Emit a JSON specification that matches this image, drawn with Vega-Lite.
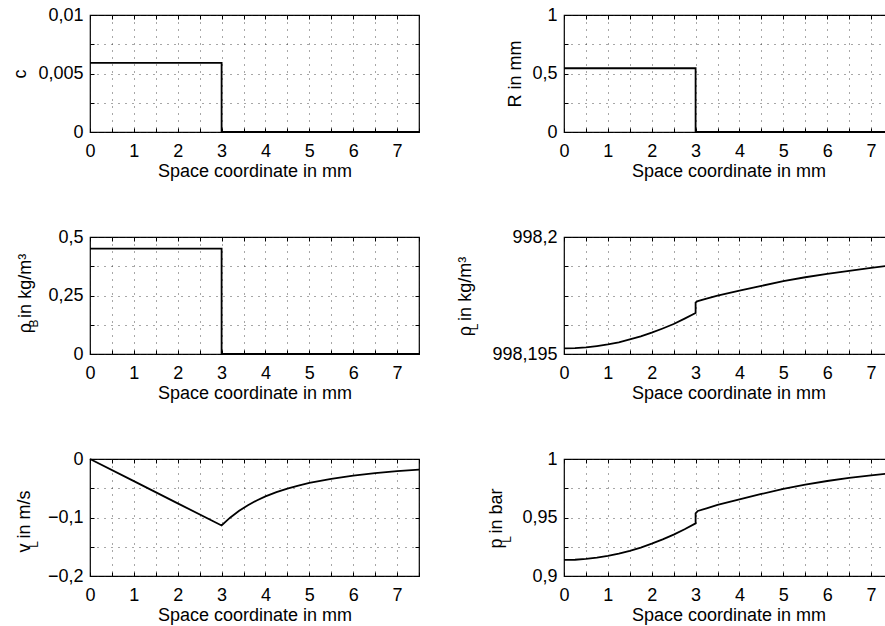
{
  "$schema": "https://vega.github.io/schema/vega-lite/v6.json",
  "background": "#ffffff",
  "padding": {"left": 10, "top": 5, "right": 0, "bottom": 0},
  "columns": 2,
  "spacing": {"row": 105, "column": 145},
  "bounds": "flush",
  "config": {
    "font": "Liberation Sans",
    "locale": {"number": {"decimal": ",", "thousands": ".", "grouping": [3], "currency": ["", " €"]}},
    "view": {"stroke": "#000000", "strokeWidth": 1.2, "fill": "#ffffff"},
    "axis": {"domain": false, "labelFont": "Liberation Sans", "labelFontSize": 18, "labelColor": "#000000", "titleFont": "Liberation Sans", "titleFontSize": 18, "titleFontWeight": "normal", "titleColor": "#000000", "tickColor": "#000000", "tickSize": -4, "tickWidth": 1, "gridColor": "#222222", "gridDash": [1, 6], "gridWidth": 0.8, "labelFlush": false, "labelOverlap": false, "labelBound": false},
    "axisX": {"labelPadding": 14, "labelBaseline": "top"},
    "axisY": {"labelPadding": 11}
  },
  "datasets": {
    "c": [{"i": 0, "x": 0, "y": 0.0059}, {"i": 1, "x": 3, "y": 0.0059}, {"i": 2, "x": 3, "y": 0}, {"i": 3, "x": 7.5, "y": 0}],
    "R": [{"i": 0, "x": 0, "y": 0.545}, {"i": 1, "x": 3, "y": 0.545}, {"i": 2, "x": 3, "y": 0}, {"i": 3, "x": 7.5, "y": 0}],
    "rhoB": [{"i": 0, "x": 0, "y": 0.45}, {"i": 1, "x": 3, "y": 0.45}, {"i": 2, "x": 3, "y": 0}, {"i": 3, "x": 7.5, "y": 0}],
    "rhoL": [
      {"i": 0, "x": 0, "y": 998.19524}, {"i": 1, "x": 0.25, "y": 998.19525}, {"i": 2, "x": 0.5, "y": 998.19528}, {"i": 3, "x": 0.75, "y": 998.19534},
      {"i": 4, "x": 1, "y": 998.19541}, {"i": 5, "x": 1.25, "y": 998.1955}, {"i": 6, "x": 1.5, "y": 998.19562}, {"i": 7, "x": 1.75, "y": 998.19575},
      {"i": 8, "x": 2, "y": 998.19591}, {"i": 9, "x": 2.25, "y": 998.19609}, {"i": 10, "x": 2.5, "y": 998.19628}, {"i": 11, "x": 2.75, "y": 998.19651},
      {"i": 12, "x": 3, "y": 998.19675}, {"i": 13, "x": 3, "y": 998.1972}, {"i": 14, "x": 3.05, "y": 998.19726}, {"i": 15, "x": 3.25, "y": 998.19737},
      {"i": 16, "x": 3.5, "y": 998.19749}, {"i": 17, "x": 3.75, "y": 998.1976}, {"i": 18, "x": 4, "y": 998.19771}, {"i": 19, "x": 4.5, "y": 998.19791},
      {"i": 20, "x": 5, "y": 998.19811}, {"i": 21, "x": 5.5, "y": 998.19828}, {"i": 22, "x": 6, "y": 998.19842}, {"i": 23, "x": 6.5, "y": 998.19855},
      {"i": 24, "x": 7, "y": 998.19868}, {"i": 25, "x": 7.5, "y": 998.1988}
    ],
    "vL": [
      {"i": 0, "x": 0, "y": 0}, {"i": 1, "x": 1, "y": -0.0379}, {"i": 2, "x": 2, "y": -0.0758}, {"i": 3, "x": 3, "y": -0.1137},
      {"i": 4, "x": 3.1, "y": -0.1065}, {"i": 5, "x": 3.2, "y": -0.0999}, {"i": 6, "x": 3.4, "y": -0.0885}, {"i": 7, "x": 3.6, "y": -0.079},
      {"i": 8, "x": 3.8, "y": -0.0709}, {"i": 9, "x": 4, "y": -0.064}, {"i": 10, "x": 4.25, "y": -0.0567}, {"i": 11, "x": 4.5, "y": -0.0505},
      {"i": 12, "x": 4.75, "y": -0.0454}, {"i": 13, "x": 5, "y": -0.0409}, {"i": 14, "x": 5.5, "y": -0.0338}, {"i": 15, "x": 6, "y": -0.0284},
      {"i": 16, "x": 6.5, "y": -0.0242}, {"i": 17, "x": 7, "y": -0.0209}, {"i": 18, "x": 7.5, "y": -0.0182}
    ],
    "pL": [
      {"i": 0, "x": 0, "y": 0.9137}, {"i": 1, "x": 0.25, "y": 0.9139}, {"i": 2, "x": 0.5, "y": 0.9146}, {"i": 3, "x": 0.75, "y": 0.9157},
      {"i": 4, "x": 1, "y": 0.9172}, {"i": 5, "x": 1.25, "y": 0.9191}, {"i": 6, "x": 1.5, "y": 0.9215}, {"i": 7, "x": 1.75, "y": 0.9243},
      {"i": 8, "x": 2, "y": 0.9276}, {"i": 9, "x": 2.25, "y": 0.9313}, {"i": 10, "x": 2.5, "y": 0.9354}, {"i": 11, "x": 2.75, "y": 0.94},
      {"i": 12, "x": 3, "y": 0.945}, {"i": 13, "x": 3, "y": 0.9536}, {"i": 14, "x": 3.05, "y": 0.9556}, {"i": 15, "x": 3.25, "y": 0.9578},
      {"i": 16, "x": 3.5, "y": 0.9607}, {"i": 17, "x": 3.75, "y": 0.9632}, {"i": 18, "x": 4, "y": 0.9655}, {"i": 19, "x": 4.5, "y": 0.9701},
      {"i": 20, "x": 5, "y": 0.9744}, {"i": 21, "x": 5.5, "y": 0.978}, {"i": 22, "x": 6, "y": 0.9812}, {"i": 23, "x": 6.5, "y": 0.9838},
      {"i": 24, "x": 7, "y": 0.986}, {"i": 25, "x": 7.5, "y": 0.988}
    ]
  },
  "concat": [
    {
      "width": 329, "height": 117,
      "data": {"name": "c"},
      "resolve": {"axis": {"x": "independent", "y": "independent"}},
      "layer": [
        {
          "mark": {"type": "line", "stroke": "#000000", "strokeWidth": 1.8},
          "encoding": {
            "x": {"field": "x", "type": "quantitative", "scale": {"domain": [0, 7.5], "nice": false, "zero": false},
              "axis": {"orient": "bottom", "values": [0, 0.5, 1, 1.5, 2, 2.5, 3, 3.5, 4, 4.5, 5, 5.5, 6, 6.5, 7, 7.5], "format": ".1~f", "labelExpr": "datum.value % 1 === 0 ? datum.label : ''", "title": "Space coordinate in mm", "titleY": 44, "titleBaseline": "alphabetic", "titleAlign": "center"}},
            "y": {"field": "y", "type": "quantitative", "scale": {"domain": [0, 0.01], "nice": false, "zero": false},
              "axis": {"orient": "left", "values": [0, 0.0025, 0.005, 0.0075, 0.01], "format": ".4~f", "labelExpr": "abs(datum.value / 0.005 - round(datum.value / 0.005)) < 0.01 ? datum.label : ''", "title": "c", "titleAngle": -90, "titleAlign": "center", "titleBaseline": "alphabetic", "titleX": -65, "titleY": 58.5}},
            "order": {"field": "i", "type": "quantitative"}
          }
        },
        {
          "mark": {"type": "line", "opacity": 0},
          "encoding": {
            "x": {"field": "x", "type": "quantitative", "scale": {"domain": [0, 7.5], "nice": false, "zero": false},
              "axis": {"orient": "top", "values": [0, 0.5, 1, 1.5, 2, 2.5, 3, 3.5, 4, 4.5, 5, 5.5, 6, 6.5, 7, 7.5], "labels": false, "grid": false, "title": null}},
            "y": {"field": "y", "type": "quantitative", "scale": {"domain": [0, 0.01], "nice": false, "zero": false},
              "axis": {"orient": "right", "values": [0, 0.0025, 0.005, 0.0075, 0.01], "labels": false, "grid": false, "title": null}},
            "order": {"field": "i", "type": "quantitative"}
          }
        }
      ]
    },
    {
      "width": 329, "height": 117,
      "data": {"name": "R"},
      "resolve": {"axis": {"x": "independent", "y": "independent"}},
      "layer": [
        {
          "mark": {"type": "line", "stroke": "#000000", "strokeWidth": 1.8},
          "encoding": {
            "x": {"field": "x", "type": "quantitative", "scale": {"domain": [0, 7.5], "nice": false, "zero": false},
              "axis": {"orient": "bottom", "values": [0, 0.5, 1, 1.5, 2, 2.5, 3, 3.5, 4, 4.5, 5, 5.5, 6, 6.5, 7, 7.5], "format": ".1~f", "labelExpr": "datum.value % 1 === 0 ? datum.label : ''", "title": "Space coordinate in mm", "titleY": 44, "titleBaseline": "alphabetic", "titleAlign": "center"}},
            "y": {"field": "y", "type": "quantitative", "scale": {"domain": [0, 1], "nice": false, "zero": false},
              "axis": {"orient": "left", "values": [0, 0.25, 0.5, 0.75, 1], "format": ".2~f", "labelExpr": "abs(datum.value / 0.5 - round(datum.value / 0.5)) < 0.01 ? datum.label : ''", "title": "R in mm", "titleAngle": -90, "titleAlign": "center", "titleBaseline": "alphabetic", "titleX": -44, "titleY": 58.5}},
            "order": {"field": "i", "type": "quantitative"}
          }
        },
        {
          "mark": {"type": "line", "opacity": 0},
          "encoding": {
            "x": {"field": "x", "type": "quantitative", "scale": {"domain": [0, 7.5], "nice": false, "zero": false},
              "axis": {"orient": "top", "values": [0, 0.5, 1, 1.5, 2, 2.5, 3, 3.5, 4, 4.5, 5, 5.5, 6, 6.5, 7, 7.5], "labels": false, "grid": false, "title": null}},
            "y": {"field": "y", "type": "quantitative", "scale": {"domain": [0, 1], "nice": false, "zero": false},
              "axis": {"orient": "right", "values": [0, 0.25, 0.5, 0.75, 1], "labels": false, "grid": false, "title": null}},
            "order": {"field": "i", "type": "quantitative"}
          }
        }
      ]
    },
    {
      "width": 329, "height": 117,
      "data": {"name": "rhoB"},
      "resolve": {"axis": {"x": "independent", "y": "independent"}},
      "layer": [
        {
          "mark": {"type": "line", "stroke": "#000000", "strokeWidth": 1.8},
          "encoding": {
            "x": {"field": "x", "type": "quantitative", "scale": {"domain": [0, 7.5], "nice": false, "zero": false},
              "axis": {"orient": "bottom", "values": [0, 0.5, 1, 1.5, 2, 2.5, 3, 3.5, 4, 4.5, 5, 5.5, 6, 6.5, 7, 7.5], "format": ".1~f", "labelExpr": "datum.value % 1 === 0 ? datum.label : ''", "title": "Space coordinate in mm", "titleY": 44, "titleBaseline": "alphabetic", "titleAlign": "center"}},
            "y": {"field": "y", "type": "quantitative", "scale": {"domain": [0, 0.5], "nice": false, "zero": false},
              "axis": {"orient": "left", "values": [0, 0.125, 0.25, 0.375, 0.5], "format": ".3~f", "labelExpr": "abs(datum.value / 0.25 - round(datum.value / 0.25)) < 0.01 ? datum.label : ''", "title": "ρ   in kg/m³", "titleAngle": -90, "titleAlign": "center", "titleBaseline": "alphabetic", "titleX": -60, "titleY": 56}},
            "order": {"field": "i", "type": "quantitative"}
          }
        },
        {
          "mark": {"type": "line", "opacity": 0},
          "encoding": {
            "x": {"field": "x", "type": "quantitative", "scale": {"domain": [0, 7.5], "nice": false, "zero": false},
              "axis": {"orient": "top", "values": [0, 0.5, 1, 1.5, 2, 2.5, 3, 3.5, 4, 4.5, 5, 5.5, 6, 6.5, 7, 7.5], "labels": false, "grid": false, "title": null}},
            "y": {"field": "y", "type": "quantitative", "scale": {"domain": [0, 0.5], "nice": false, "zero": false},
              "axis": {"orient": "right", "values": [0, 0.125, 0.25, 0.375, 0.5], "labels": false, "grid": false, "title": null}},
            "order": {"field": "i", "type": "quantitative"}
          }
        },
        {
          "mark": {"type": "line", "opacity": 0},
          "encoding": {
            "x": {"field": "x", "type": "quantitative", "scale": {"domain": [0, 7.5], "nice": false, "zero": false}, "axis": null},
            "y": {"field": "y", "type": "quantitative", "scale": {"domain": [0, 0.5], "nice": false, "zero": false},
              "axis": {"orient": "left", "labels": false, "ticks": false, "grid": false, "domain": false, "title": "B", "titleFontSize": 12, "titleAngle": -90, "titleAlign": "center", "titleBaseline": "alphabetic", "titleX": -53, "titleY": 86}},
            "order": {"field": "i", "type": "quantitative"}
          }
        }
      ]
    },
    {
      "width": 329, "height": 117,
      "data": {"name": "rhoL"},
      "resolve": {"axis": {"x": "independent", "y": "independent"}},
      "layer": [
        {
          "mark": {"type": "line", "stroke": "#000000", "strokeWidth": 1.8},
          "encoding": {
            "x": {"field": "x", "type": "quantitative", "scale": {"domain": [0, 7.5], "nice": false, "zero": false},
              "axis": {"orient": "bottom", "values": [0, 0.5, 1, 1.5, 2, 2.5, 3, 3.5, 4, 4.5, 5, 5.5, 6, 6.5, 7, 7.5], "format": ".1~f", "labelExpr": "datum.value % 1 === 0 ? datum.label : ''", "title": "Space coordinate in mm", "titleY": 44, "titleBaseline": "alphabetic", "titleAlign": "center"}},
            "y": {"field": "y", "type": "quantitative", "scale": {"domain": [998.195, 998.2], "nice": false, "zero": false},
              "axis": {"orient": "left", "values": [998.195, 998.19625, 998.1975, 998.19875, 998.2], "format": ".5~f", "labelExpr": "datum.value < 998.1951 || datum.value > 998.1999 ? datum.label : ''", "title": "ρ   in kg/m³", "titleAngle": -90, "titleAlign": "center", "titleBaseline": "alphabetic", "titleX": -94, "titleY": 59}},
            "order": {"field": "i", "type": "quantitative"}
          }
        },
        {
          "mark": {"type": "line", "opacity": 0},
          "encoding": {
            "x": {"field": "x", "type": "quantitative", "scale": {"domain": [0, 7.5], "nice": false, "zero": false},
              "axis": {"orient": "top", "values": [0, 0.5, 1, 1.5, 2, 2.5, 3, 3.5, 4, 4.5, 5, 5.5, 6, 6.5, 7, 7.5], "labels": false, "grid": false, "title": null}},
            "y": {"field": "y", "type": "quantitative", "scale": {"domain": [998.195, 998.2], "nice": false, "zero": false},
              "axis": {"orient": "right", "values": [998.195, 998.19625, 998.1975, 998.19875, 998.2], "labels": false, "grid": false, "title": null}},
            "order": {"field": "i", "type": "quantitative"}
          }
        },
        {
          "mark": {"type": "line", "opacity": 0},
          "encoding": {
            "x": {"field": "x", "type": "quantitative", "scale": {"domain": [0, 7.5], "nice": false, "zero": false}, "axis": null},
            "y": {"field": "y", "type": "quantitative", "scale": {"domain": [998.195, 998.2], "nice": false, "zero": false},
              "axis": {"orient": "left", "labels": false, "ticks": false, "grid": false, "domain": false, "title": "L", "titleFontSize": 12, "titleAngle": -90, "titleAlign": "center", "titleBaseline": "alphabetic", "titleX": -87, "titleY": 89.5}},
            "order": {"field": "i", "type": "quantitative"}
          }
        }
      ]
    },
    {
      "width": 329, "height": 117,
      "data": {"name": "vL"},
      "resolve": {"axis": {"x": "independent", "y": "independent"}},
      "layer": [
        {
          "mark": {"type": "line", "stroke": "#000000", "strokeWidth": 1.8},
          "encoding": {
            "x": {"field": "x", "type": "quantitative", "scale": {"domain": [0, 7.5], "nice": false, "zero": false},
              "axis": {"orient": "bottom", "values": [0, 0.5, 1, 1.5, 2, 2.5, 3, 3.5, 4, 4.5, 5, 5.5, 6, 6.5, 7, 7.5], "format": ".1~f", "labelExpr": "datum.value % 1 === 0 ? datum.label : ''", "title": "Space coordinate in mm", "titleY": 44, "titleBaseline": "alphabetic", "titleAlign": "center"}},
            "y": {"field": "y", "type": "quantitative", "scale": {"domain": [-0.2, 0], "nice": false, "zero": false},
              "axis": {"orient": "left", "values": [-0.2, -0.15, -0.1, -0.05, 0], "format": ".2~f", "labelExpr": "abs(datum.value / 0.1 - round(datum.value / 0.1)) < 0.01 ? datum.label : ''", "title": "v   in m/s", "titleAngle": -90, "titleAlign": "center", "titleBaseline": "alphabetic", "titleX": -61, "titleY": 62}},
            "order": {"field": "i", "type": "quantitative"}
          }
        },
        {
          "mark": {"type": "line", "opacity": 0},
          "encoding": {
            "x": {"field": "x", "type": "quantitative", "scale": {"domain": [0, 7.5], "nice": false, "zero": false},
              "axis": {"orient": "top", "values": [0, 0.5, 1, 1.5, 2, 2.5, 3, 3.5, 4, 4.5, 5, 5.5, 6, 6.5, 7, 7.5], "labels": false, "grid": false, "title": null}},
            "y": {"field": "y", "type": "quantitative", "scale": {"domain": [-0.2, 0], "nice": false, "zero": false},
              "axis": {"orient": "right", "values": [-0.2, -0.15, -0.1, -0.05, 0], "labels": false, "grid": false, "title": null}},
            "order": {"field": "i", "type": "quantitative"}
          }
        },
        {
          "mark": {"type": "line", "opacity": 0},
          "encoding": {
            "x": {"field": "x", "type": "quantitative", "scale": {"domain": [0, 7.5], "nice": false, "zero": false}, "axis": null},
            "y": {"field": "y", "type": "quantitative", "scale": {"domain": [-0.2, 0], "nice": false, "zero": false},
              "axis": {"orient": "left", "labels": false, "ticks": false, "grid": false, "domain": false, "title": "L", "titleFontSize": 12, "titleAngle": -90, "titleAlign": "center", "titleBaseline": "alphabetic", "titleX": -53, "titleY": 85}},
            "order": {"field": "i", "type": "quantitative"}
          }
        }
      ]
    },
    {
      "width": 329, "height": 117,
      "data": {"name": "pL"},
      "resolve": {"axis": {"x": "independent", "y": "independent"}},
      "layer": [
        {
          "mark": {"type": "line", "stroke": "#000000", "strokeWidth": 1.8},
          "encoding": {
            "x": {"field": "x", "type": "quantitative", "scale": {"domain": [0, 7.5], "nice": false, "zero": false},
              "axis": {"orient": "bottom", "values": [0, 0.5, 1, 1.5, 2, 2.5, 3, 3.5, 4, 4.5, 5, 5.5, 6, 6.5, 7, 7.5], "format": ".1~f", "labelExpr": "datum.value % 1 === 0 ? datum.label : ''", "title": "Space coordinate in mm", "titleY": 44, "titleBaseline": "alphabetic", "titleAlign": "center"}},
            "y": {"field": "y", "type": "quantitative", "scale": {"domain": [0.9, 1], "nice": false, "zero": false},
              "axis": {"orient": "left", "values": [0.9, 0.925, 0.95, 0.975, 1], "format": ".3~f", "labelExpr": "abs(datum.value / 0.05 - round(datum.value / 0.05)) < 0.01 ? datum.label : ''", "title": "p   in bar", "titleAngle": -90, "titleAlign": "center", "titleBaseline": "alphabetic", "titleX": -63, "titleY": 59}},
            "order": {"field": "i", "type": "quantitative"}
          }
        },
        {
          "mark": {"type": "line", "opacity": 0},
          "encoding": {
            "x": {"field": "x", "type": "quantitative", "scale": {"domain": [0, 7.5], "nice": false, "zero": false},
              "axis": {"orient": "top", "values": [0, 0.5, 1, 1.5, 2, 2.5, 3, 3.5, 4, 4.5, 5, 5.5, 6, 6.5, 7, 7.5], "labels": false, "grid": false, "title": null}},
            "y": {"field": "y", "type": "quantitative", "scale": {"domain": [0.9, 1], "nice": false, "zero": false},
              "axis": {"orient": "right", "values": [0.9, 0.925, 0.95, 0.975, 1], "labels": false, "grid": false, "title": null}},
            "order": {"field": "i", "type": "quantitative"}
          }
        },
        {
          "mark": {"type": "line", "opacity": 0},
          "encoding": {
            "x": {"field": "x", "type": "quantitative", "scale": {"domain": [0, 7.5], "nice": false, "zero": false}, "axis": null},
            "y": {"field": "y", "type": "quantitative", "scale": {"domain": [0.9, 1], "nice": false, "zero": false},
              "axis": {"orient": "left", "labels": false, "ticks": false, "grid": false, "domain": false, "title": "L", "titleFontSize": 12, "titleAngle": -90, "titleAlign": "center", "titleBaseline": "alphabetic", "titleX": -54, "titleY": 80}},
            "order": {"field": "i", "type": "quantitative"}
          }
        }
      ]
    }
  ]
}
